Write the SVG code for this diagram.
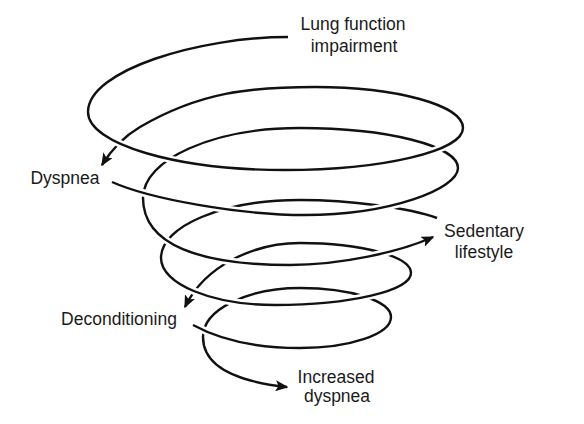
<svg xmlns="http://www.w3.org/2000/svg" width="584" height="424" viewBox="0 0 584 424">
<style>
  .b { fill: none; stroke: #111; stroke-width: 2.4; }
  .f { fill: none; stroke: #111; stroke-width: 2.4; }
  .halo { fill: none; stroke: #fff; stroke-width: 7.5; }
  .arr { marker-end: url(#ah); }
  text { font-family: "Liberation Sans", Arial, sans-serif; font-size: 17.5px; fill: #1a1a1a; text-anchor: middle; }
</style>
<defs>
  <marker id="ah" markerUnits="userSpaceOnUse" viewBox="0 0 13 11" markerWidth="13" markerHeight="11" refX="11.5" refY="5.5" orient="auto">
    <path d="M0,0 L13,5.5 L0,11 L3,5.5 Z" fill="#111"/>
  </marker>
</defs>
<rect width="584" height="424" fill="#fff"/>
<g id="connectors">
  <!-- back (hidden) parts -->
  <path class="b" d="M288,37 C200,37 88,70 88,112"/>
  <path class="b arr" d="M463,128 C463,105.4 397,87 315,87 C250,87 200,92 140,127 C123,137 110,152 102,165"/>
  <path class="b" d="M458,168 C458,145.9 387.3,128 300,128 C213.3,128 143,159.3 143,198"/>
  <path class="b" d="M437,218 C410,208 350,200 300,200 C223.2,200 161,226 161,258"/>
  <path class="b arr" d="M411,273 C411,256.4 361.3,243 300,243 C255,243 205,265 185,307"/>
  <path class="b arr" d="M391,317 C391,301 350.3,288 300,288 C246.4,288 203,309.9 203,337 C203,364 232,381 287,387"/>
  <!-- halos of front parts -->
  <path class="halo" d="M88,112 C88,144 176,170 285,170 C383,170 463,151 463,128"/>
  <path class="halo" d="M112,182 C150,199 240,215 305,215 C389.5,215 458,189 458,168"/>
  <path class="halo" d="M143,198 C143,245 200,265 290,265 C340,265 400,252 433,237"/>
  <path class="halo" d="M161,258 C161,284 212,305 275,305 C350,305 411,290.7 411,273"/>
  <path class="halo" d="M193,325 C215,337 250,348 300,348 C350.3,348 391,334.1 391,317"/>
  <!-- front parts -->
  <path class="f" d="M88,112 C88,144 176,170 285,170 C383,170 463,151 463,128"/>
  <path class="f" d="M112,182 C150,199 240,215 305,215 C389.5,215 458,189 458,168"/>
  <path class="f arr" d="M143,198 C143,245 200,265 290,265 C340,265 400,252 433,237"/>
  <path class="f" d="M161,258 C161,284 212,305 275,305 C350,305 411,290.7 411,273"/>
  <path class="f" d="M193,325 C215,337 250,348 300,348 C350.3,348 391,334.1 391,317"/>
</g>
<g id="lung-function-impairment">
  <text x="353" y="30">Lung function</text>
  <text x="354" y="51.5">impairment</text>
</g>
<g id="dyspnea">
  <text x="65" y="183.5">Dyspnea</text>
</g>
<g id="sedentary-lifestyle">
  <text x="484" y="237">Sedentary</text>
  <text x="484" y="257.5">lifestyle</text>
</g>
<g id="deconditioning">
  <text x="119" y="325">Deconditioning</text>
</g>
<g id="increased-dyspnea">
  <text x="336" y="382.5">Increased</text>
  <text x="337" y="402">dyspnea</text>
</g>
</svg>
